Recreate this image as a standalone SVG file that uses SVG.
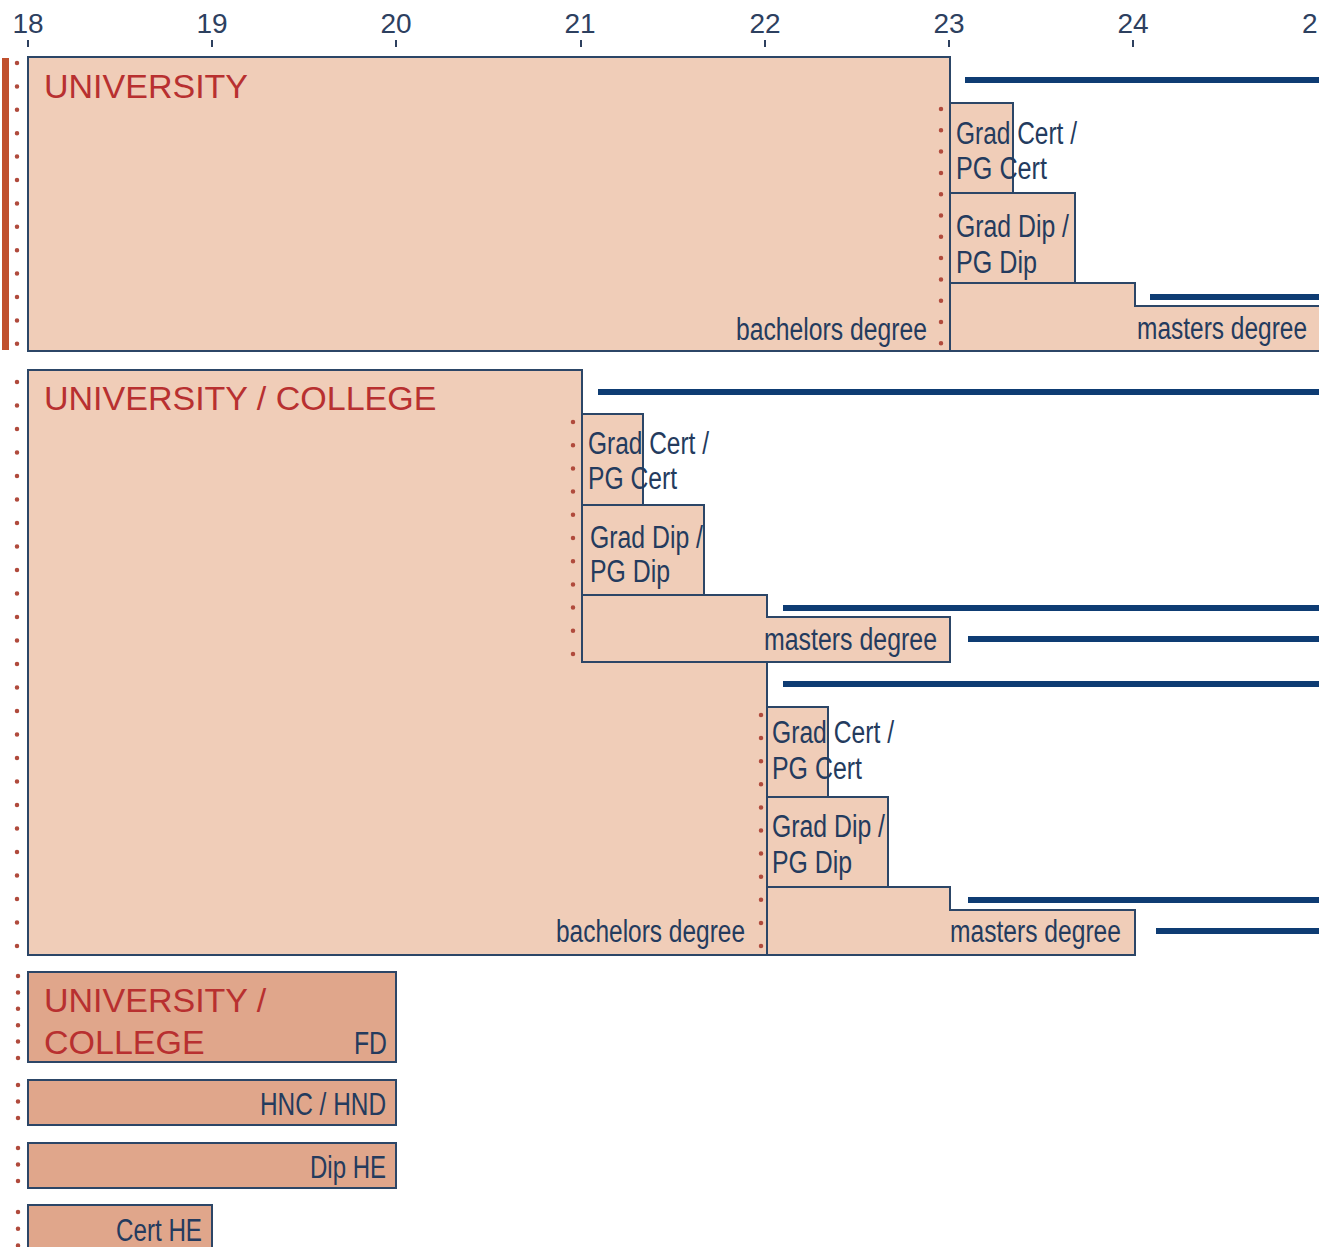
<svg xmlns="http://www.w3.org/2000/svg" width="1339" height="1247" viewBox="0 0 1339 1247">
<style>
.box{fill:#f0cdb8;stroke:#2c4667;stroke-width:2}
.box2{fill:#e0a68b;stroke:#2c4667;stroke-width:2}
.bar{stroke:#0e3c73;stroke-width:6;fill:none}
.dots{stroke:#b04a3c;stroke-width:4.5;stroke-linecap:round;fill:none}
.lbl{font-family:"Liberation Sans",Arial,sans-serif;font-size:31px;fill:#243b5e}
.head{font-family:"Liberation Sans",Arial,sans-serif;font-size:34px;fill:#b83030}
.ax{font-family:"Liberation Sans",Arial,sans-serif;font-size:28px;fill:#2d405f;text-anchor:middle}
.tick{stroke:#2d405f;stroke-width:2}
</style>
<defs>
<clipPath id="clip"><rect x="0" y="0" width="1319" height="1247"/></clipPath>
</defs>
<rect x="0" y="0" width="1339" height="1247" fill="#ffffff"/>
<g clip-path="url(#clip)">
<g id="axis">
<text class="ax" x="28" y="33">18</text>
<text class="ax" x="212" y="33">19</text>
<text class="ax" x="396" y="33">20</text>
<text class="ax" x="580" y="33">21</text>
<text class="ax" x="765" y="33">22</text>
<text class="ax" x="949" y="33">23</text>
<text class="ax" x="1133" y="33">24</text>
<text class="ax" x="1302" y="33" style="text-anchor:start">2</text>
<line class="tick" x1="28" y1="40" x2="28" y2="47"/>
<line class="tick" x1="212" y1="40" x2="212" y2="47"/>
<line class="tick" x1="396" y1="40" x2="396" y2="47"/>
<line class="tick" x1="581" y1="40" x2="581" y2="47"/>
<line class="tick" x1="765" y1="40" x2="765" y2="47"/>
<line class="tick" x1="949" y1="40" x2="949" y2="47"/>
<line class="tick" x1="1133" y1="40" x2="1133" y2="47"/>
</g>
<g id="university">
<rect x="2" y="58" width="7" height="292" fill="#c0502e"/>
<line class="dots" x1="17" y1="63" x2="17" y2="345" stroke-dasharray="0 23.4"/>
<rect class="box" x="28" y="57" width="922" height="294"/>
<text class="head" x="44" y="98">UNIVERSITY</text>
<text class="lbl" x="927" y="340" text-anchor="end" textLength="191" lengthAdjust="spacingAndGlyphs">bachelors degree</text>
<line class="dots" x1="941" y1="109" x2="941" y2="345" stroke-dasharray="0 21.3"/>
</g>
<g id="u-gradcert">
<rect class="box" x="950" y="103" width="63" height="90"/>
<text class="lbl" x="956" y="144" textLength="121" lengthAdjust="spacingAndGlyphs">Grad Cert /</text>
<text class="lbl" x="956" y="179" textLength="91" lengthAdjust="spacingAndGlyphs">PG Cert</text>
</g>
<g id="u-graddip">
<rect class="box" x="950" y="193" width="125" height="90"/>
<text class="lbl" x="956" y="237" textLength="113" lengthAdjust="spacingAndGlyphs">Grad Dip /</text>
<text class="lbl" x="956" y="273" textLength="81" lengthAdjust="spacingAndGlyphs">PG Dip</text>
</g>
<g id="u-masters">
<path class="box" d="M950,283 H1135 V306 H1321 V351 H950 Z"/>
<text class="lbl" x="1307" y="339" text-anchor="end" textLength="170" lengthAdjust="spacingAndGlyphs">masters degree</text>
</g>
<g id="univ-college">
<line class="dots" x1="17" y1="382" x2="17" y2="947" stroke-dasharray="0 23.5"/>
<path class="box" d="M28,370 H582 V662 H767 V955 H28 Z"/>
<text class="head" x="44" y="410">UNIVERSITY / COLLEGE</text>
<text class="lbl" x="745" y="942" text-anchor="end" textLength="189" lengthAdjust="spacingAndGlyphs">bachelors degree</text>
<line class="dots" x1="573" y1="422" x2="573" y2="655" stroke-dasharray="0 23.2"/>
<line class="dots" x1="761" y1="715" x2="761" y2="947" stroke-dasharray="0 23.1"/>
</g>
<g id="uc-gradcert-21">
<rect class="box" x="582" y="414" width="61" height="91"/>
<text class="lbl" x="588" y="454" textLength="121" lengthAdjust="spacingAndGlyphs">Grad Cert /</text>
<text class="lbl" x="588" y="489" textLength="89" lengthAdjust="spacingAndGlyphs">PG Cert</text>
</g>
<g id="uc-graddip-21">
<rect class="box" x="582" y="505" width="122" height="90"/>
<text class="lbl" x="590" y="548" textLength="113" lengthAdjust="spacingAndGlyphs">Grad Dip /</text>
<text class="lbl" x="590" y="582" textLength="80" lengthAdjust="spacingAndGlyphs">PG Dip</text>
</g>
<g id="uc-masters-21">
<path class="box" d="M582,595 H767 V617 H950 V662 H582 Z"/>
<text class="lbl" x="937" y="650" text-anchor="end" textLength="173" lengthAdjust="spacingAndGlyphs">masters degree</text>
</g>
<g id="uc-gradcert-22">
<rect class="box" x="767" y="707" width="61" height="90"/>
<text class="lbl" x="772" y="743" textLength="122" lengthAdjust="spacingAndGlyphs">Grad Cert /</text>
<text class="lbl" x="772" y="779" textLength="90" lengthAdjust="spacingAndGlyphs">PG Cert</text>
</g>
<g id="uc-graddip-22">
<rect class="box" x="767" y="797" width="121" height="90"/>
<text class="lbl" x="772" y="837" textLength="113" lengthAdjust="spacingAndGlyphs">Grad Dip /</text>
<text class="lbl" x="772" y="873" textLength="80" lengthAdjust="spacingAndGlyphs">PG Dip</text>
</g>
<g id="uc-masters-22">
<path class="box" d="M767,887 H950 V910 H1135 V955 H767 Z"/>
<text class="lbl" x="1121" y="942" text-anchor="end" textLength="171" lengthAdjust="spacingAndGlyphs">masters degree</text>
</g>
<g id="fd">
<line class="dots" x1="18" y1="976" x2="18" y2="1059" stroke-dasharray="0 16.4"/>
<rect class="box2" x="28" y="972" width="368" height="90"/>
<text class="head" x="44" y="1012">UNIVERSITY /</text>
<text class="head" x="44" y="1054">COLLEGE</text>
<text class="lbl" x="387" y="1054" text-anchor="end" textLength="33" lengthAdjust="spacingAndGlyphs">FD</text>
</g>
<g id="hnc-hnd">
<line class="dots" x1="18" y1="1085" x2="18" y2="1119" stroke-dasharray="0 16.5"/>
<rect class="box2" x="28" y="1080" width="368" height="45"/>
<text class="lbl" x="386" y="1115" text-anchor="end" textLength="126" lengthAdjust="spacingAndGlyphs">HNC / HND</text>
</g>
<g id="dip-he">
<line class="dots" x1="18" y1="1148" x2="18" y2="1182" stroke-dasharray="0 16.5"/>
<rect class="box2" x="28" y="1143" width="368" height="45"/>
<text class="lbl" x="386" y="1178" text-anchor="end" textLength="76" lengthAdjust="spacingAndGlyphs">Dip HE</text>
</g>
<g id="cert-he">
<line class="dots" x1="18" y1="1212" x2="18" y2="1246" stroke-dasharray="0 16.8"/>
<rect class="box2" x="28" y="1205" width="184" height="60"/>
<text class="lbl" x="202" y="1241" text-anchor="end" textLength="86" lengthAdjust="spacingAndGlyphs">Cert HE</text>
</g>
<g id="connectors">
<line class="bar" x1="965" y1="80" x2="1319" y2="80"/>
<line class="bar" x1="1150" y1="297" x2="1319" y2="297"/>
<line class="bar" x1="598" y1="392" x2="1319" y2="392"/>
<line class="bar" x1="783" y1="608" x2="1319" y2="608"/>
<line class="bar" x1="968" y1="639" x2="1319" y2="639"/>
<line class="bar" x1="783" y1="684" x2="1319" y2="684"/>
<line class="bar" x1="968" y1="900" x2="1319" y2="900"/>
<line class="bar" x1="1156" y1="931" x2="1319" y2="931"/>
</g>
</g>
</svg>
